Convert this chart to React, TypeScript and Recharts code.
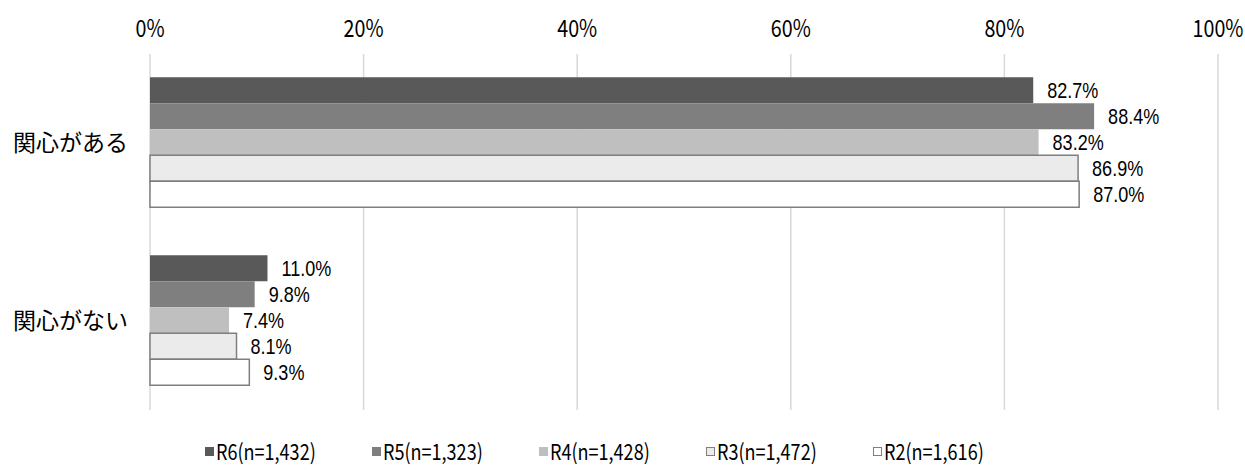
import React from "react";
import {
  BarChart,
  Bar,
  XAxis,
  YAxis,
  CartesianGrid,
  Legend,
  LabelList,
} from "recharts";

/* ── Data ── */
const categories = ["関心がある", "関心がない"];
const seriesNames = ["R6(n=1,432)", "R5(n=1,323)", "R4(n=1,428)", "R3(n=1,472)", "R2(n=1,616)"];
const r6 = [82.7, 11.0];
const r5 = [88.4, 9.8];
const r4 = [83.2, 7.4];
const r3 = [86.9, 8.1];
const r2 = [87.0, 9.3];
const xTicks = [0, 20, 40, 60, 80, 100];

const seriesKeys = ["r6", "r5", "r4", "r3", "r2"];
const fills = ["#595959", "#7f7f7f", "#bfbfbf", "#ebebeb", "#ffffff"];
const strokes = ["none", "none", "none", "#7f7f7f", "#7f7f7f"];

const data = categories.map((c, i) => ({
  cat: c,
  r6: r6[i],
  r5: r5[i],
  r4: r4[i],
  r3: r3[i],
  r2: r2[i],
}));

const JP = '"Noto Sans CJK JP", sans-serif';
const NUM = '"Liberation Sans", Arial, sans-serif';
const SQUEEZE = 0.82;

// narrow gothic look: text squeezed horizontally
const NarrowText = ({ x, y, anchor, size, font, children }: any) => (
  <text
    transform={`translate(${x},${y}) scale(${SQUEEZE},1)`}
    textAnchor={anchor}
    fontFamily={font}
    fontSize={size}
    fill="#000"
  >
    {children}
  </text>
);

const XTick = ({ x, y, payload }: any) => (
  <NarrowText x={x} y={y} anchor="middle" size={24} font={JP}>
    {`${payload.value}%`}
  </NarrowText>
);

const BarLabel = ({ x, y, width, height, value }: any) => (
  <NarrowText x={x + width + 14} y={y + height / 2 + 8} anchor="start" size={22} font={NUM}>
    {`${Number(value).toFixed(1)}%`}
  </NarrowText>
);

const renderLegend = () => (
  <div
    style={{
      height: 50,
      boxSizing: "border-box",
      paddingTop: 29,
      paddingLeft: 27,
      display: "flex",
      justifyContent: "center",
      fontFamily: JP,
      fontSize: 22,
      lineHeight: "22px",
      color: "#000",
    }}
  >
    {seriesNames.map((n, i) => (
      <div key={n} style={{ width: 167, display: "flex", alignItems: "center" }}>
        <span
          style={{
            display: "inline-block",
            width: 9,
            height: 9,
            background: fills[i],
            border: strokes[i] === "none" ? "none" : `1px solid ${strokes[i]}`,
            boxSizing: "border-box",
            marginRight: 2,
            marginTop: 3,
          }}
        />
        <span
          style={{
            display: "inline-block",
            transform: `scaleX(${SQUEEZE})`,
            transformOrigin: "left center",
            whiteSpace: "nowrap",
          }}
        >
          {n}
        </span>
      </div>
    ))}
  </div>
);

export default function App() {
  return (
    <div style={{ position: "absolute", left: 0, top: 0, background: "#fff" }}>
      <BarChart
        width={1245}
        height={470}
        data={data}
        layout="vertical"
        margin={{ top: 0, right: 27, bottom: 10, left: 0 }}
        barCategoryGap="13%"
        barGap={0}
      >
        <CartesianGrid horizontal={false} stroke="#d9d9d9" strokeWidth={1.5} />
        <XAxis
          type="number"
          orientation="top"
          domain={[0, 100]}
          ticks={xTicks}
          axisLine={false}
          tickLine={false}
          height={54}
          tickMargin={11}
          tick={<XTick />}
        />
        <YAxis
          type="category"
          dataKey="cat"
          width={150}
          axisLine={false}
          tickLine={false}
          tick={{ fill: "#000", fontSize: 23, fontFamily: JP }}
          tickMargin={16}
        />
        <Legend verticalAlign="bottom" content={renderLegend} />
        {seriesKeys.map((k, i) => (
          <Bar
            key={k}
            dataKey={k}
            name={seriesNames[i]}
            fill={fills[i]}
            stroke={strokes[i]}
            strokeWidth={1.5}
            isAnimationActive={false}
          >
            <LabelList dataKey={k} content={<BarLabel />} />
          </Bar>
        ))}
      </BarChart>
    </div>
  );
}
